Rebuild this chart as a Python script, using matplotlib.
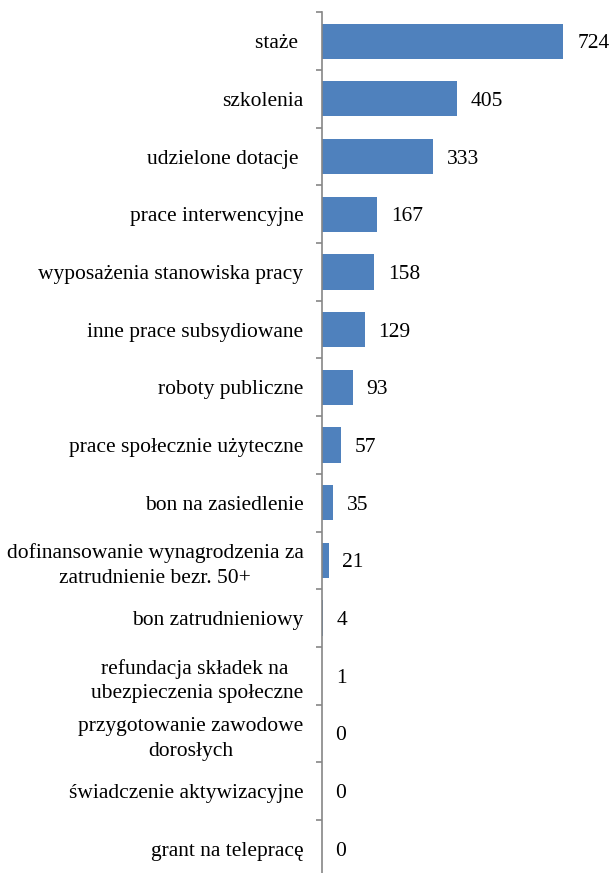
import matplotlib
matplotlib.use("Agg")
import matplotlib.pyplot as plt
from matplotlib.ticker import FixedLocator, NullFormatter

categories = [
    "staże ",
    "szkolenia",
    "udzielone dotacje ",
    "prace interwencyjne",
    "wyposażenia stanowiska pracy",
    "inne prace subsydiowane",
    "roboty publiczne",
    "prace społecznie użyteczne",
    "bon na zasiedlenie",
    "dofinansowanie wynagrodzenia za\nzatrudnienie bezr. 50+",
    "bon zatrudnieniowy",
    "refundacja składek na \nubezpieczenia społeczne",
    "przygotowanie zawodowe\ndorosłych",
    "świadczenie aktywizacyjne",
    "grant na telepracę",
]
values = [724, 405, 333, 167, 158, 129, 93, 57, 35, 21, 4, 1, 0, 0, 0]

plt.rcParams['font.family'] = ['Liberation Serif', 'DejaVu Serif']

fig = plt.figure(figsize=(6.14, 8.73), dpi=100)
W, H = 614, 873
left_px, right_px = 321.5, 588.9
top_px, bottom_px = 12.3, 877.7
ax = fig.add_axes([left_px / W, (H - bottom_px) / H, (right_px - left_px) / W, (bottom_px - top_px) / H])

n = len(categories)
pos = list(range(n))
ax.barh(pos, values, height=0.61, color="#4F81BD", zorder=2)
ax.set_ylim(n - 0.5, -0.5)
ax.set_xlim(0, 800)

for s in ["top", "right", "bottom"]:
    ax.spines[s].set_visible(False)
ax.spines["left"].set_color("#868686")
ax.spines["left"].set_linewidth(1.2)
ax.set_xticks([])

ax.yaxis.set_major_locator(FixedLocator([i - 0.5 for i in range(n + 1)]))
ax.yaxis.set_major_formatter(NullFormatter())
ax.yaxis.set_minor_locator(FixedLocator(pos))
ax.set_yticklabels(categories, minor=True)
ax.tick_params(axis="y", which="major", length=4, color="#868686", width=1.2)
ax.tick_params(axis="y", which="minor", length=0, pad=13, labelsize=15.5)
for lbl in ax.get_yticklabels(minor=True):
    lbl.set_multialignment("center")
    lbl.set_linespacing(1.4)

for i, v in enumerate(values):
    ax.annotate(str(v), xy=(v, i), xytext=(10, 0), textcoords="offset points",
                va="center_baseline", ha="left", fontsize=15.5)

fig.savefig("out.png", dpi=100)
